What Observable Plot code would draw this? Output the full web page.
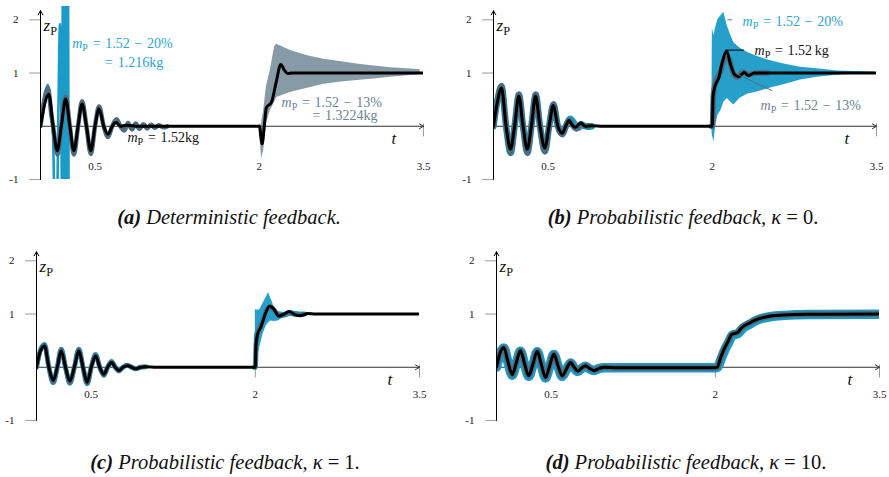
<!DOCTYPE html>
<html>
<head>
<meta charset="utf-8">
<script src="https://cdn.jsdelivr.net/npm/d3@7"></script>
<script src="https://cdn.jsdelivr.net/npm/@observablehq/plot@0.6"></script>
<style>
  html, body { margin: 0; padding: 0; background: #fff; }
  #root { position: relative; width: 889px; height: 477px; overflow: hidden; font-family: "Liberation Serif", serif; }
  #root svg, #root svg text { font-family: "Liberation Serif", serif !important; }
  .panel { position: absolute; }
  .cap { position: absolute; transform: translate(-50%, -50%); white-space: nowrap; font-size: 20.5px; font-style: italic; color: #111; }
  .cap b { font-weight: bold; }
  .cap .up { font-style: normal; }
</style>
</head>
<body>
<div id="root"></div>
<script>
// ---------------- DATA ----------------
const X_TICKS = [0.5, 2, 3.5];
const X_TICK_LABELS = ["0.5", "2", "3.5"];
const Y_TICKS = [2, 1, -1];
const Y_TICK_LABELS = ["2", "1", "-1"];
const X_MINOR = [2, 3.5];

// (a) Deterministic feedback  [t, zP]  (null = no visible trace)
const blackA = [[0,0],[0.076,0.60],[0.115,0],[0.153,-0.46],[0.19,0],[0.23,0.51],[0.268,0],[0.305,-0.46],[0.343,0],[0.38,0.42],[0.42,0],[0.46,-0.46],[0.498,0],[0.535,0.33],[0.578,0],[0.617,-0.15],[0.655,0],[0.69,0.07],[0.73,0],[0.78,0.02],[0.9,0],[2.0,0],[2.025,-0.33],[2.045,0],[2.064,0.35],[2.11,0.45],[2.156,0.85],[2.195,1.16],[2.23,1.05],[2.26,0.99],[2.3,1.0],[3.5,1.0]];
const grayA = [[0,0],[0.035,0.5],[0.068,0.72],[0.1,0.2],[0.115,0],[0.155,-0.53],[0.19,0],[0.23,0.56],[0.268,0],[0.305,-0.53],[0.343,0],[0.38,0.47],[0.42,0],[0.46,-0.52],[0.498,0],[0.535,0.37],[0.578,0],[0.617,-0.2],[0.655,0],[0.695,0.13],[0.73,0],[0.765,-0.08],[0.8,0.06],[0.835,-0.06],[0.87,0.05],[0.905,-0.05],[0.94,0.04],[0.975,-0.04],[1.01,0.03],[1.045,-0.03],[1.08,0.02],[1.12,-0.02],[1.16,0]];
const grayBandA = [[2.0,0,0],[2.01,-0.3,0],[2.02,-0.61,0.05],[2.04,-0.45,0.3],[2.065,0.05,0.75],[2.1,0.29,1.05],[2.14,0.45,1.5],[2.16,0.54,1.54],[2.29,0.64,1.42],[2.45,0.72,1.32],[2.59,0.79,1.26],[2.75,0.83,1.21],[2.89,0.86,1.17],[3.05,0.89,1.13],[3.2,0.92,1.10],[3.35,0.95,1.08],[3.47,0.97,1.06]];
const cyanA = [[0,0],[0.035,0.45],[0.065,0.78],[0.09,0.45],[0.115,-0.2],[0.13,-1.6],[0.15,-1.6],[0.165,0.5],[0.178,1.92],[0.19,0.3],[0.198,-1.8],[0.204,2.6],[0.21,-2.6],[0.216,2.6],[0.222,-2.6],[0.228,2.6],[0.234,-2.6],[0.24,2.6],[0.246,-2.6],[0.252,2.6],[0.258,-2.6]];

// (b) Probabilistic feedback, kappa = 0
const blackB = [[0,0],[0.035,0.45],[0.073,0.72],[0.115,0],[0.155,-0.43],[0.193,0],[0.231,0.57],[0.27,0],[0.308,-0.43],[0.346,0],[0.384,0.57],[0.425,0],[0.469,-0.41],[0.508,0],[0.546,0.39],[0.588,0],[0.628,-0.13],[0.66,0],[0.689,0.11],[0.72,0.02],[0.75,-0.02],[0.795,0.06],[0.84,0],[0.9,0.01],[1.0,0],[2.0,0],[2.006,0.55],[2.02,0.72],[2.06,0.92],[2.09,1.2],[2.13,1.42],[2.165,1.17],[2.2,0.98],[2.24,0.93],[2.29,1.01],[2.33,0.95],[2.38,1.0],[3.5,1.0]];
const grayB = [[0,0],[0.035,0.48],[0.073,0.76],[0.115,0],[0.157,-0.5],[0.193,0],[0.232,0.6],[0.27,0],[0.31,-0.5],[0.346,0],[0.386,0.6],[0.425,0],[0.47,-0.48],[0.508,0],[0.548,0.42],[0.588,0],[0.63,-0.16],[0.66,0],[0.69,0.12],[0.72,0.02],[0.755,-0.05],[0.8,0.05],[0.84,0],[0.88,0.01],[0.9,null],[1.99,0],[2.0,0],[2.01,0.6],[2.03,0.83],[2.07,1.0],[2.12,1.28],[2.15,1.27],[2.19,1.0],[2.23,0.92],[2.28,1.02],[2.33,0.97],[2.4,1.0],[2.5,1.0]];
const cyanB = [[0,0],[0.035,0.48],[0.073,0.75],[0.115,0],[0.157,-0.5],[0.193,0],[0.232,0.59],[0.27,0],[0.31,-0.5],[0.346,0],[0.386,0.59],[0.425,0],[0.47,-0.47],[0.508,0],[0.548,0.41],[0.588,0],[0.63,-0.14],[0.665,0.02],[0.7,0.14],[0.74,0.05],[0.77,-0.03],[0.81,0.02],[0.86,-0.01],[0.9,0]];
const cyanBandB = [[1.995,-0.05,0.05],[2.0,-0.15,1.85],[2.014,-0.30,1.70],[2.03,0.0,1.85],[2.05,0.2,2.0],[2.08,0.3,2.08],[2.105,0.45,2.14],[2.136,0.52,1.89],[2.17,0.45,1.7],[2.197,0.40,1.57],[2.25,0.52,1.47],[2.319,0.60,1.39],[2.4,0.64,1.32],[2.471,0.68,1.27],[2.55,0.73,1.22],[2.654,0.78,1.17],[2.806,0.87,1.11],[2.959,0.92,1.08],[3.141,0.96,1.04],[3.3,0.98,1.03],[3.476,0.99,1.02]];

// (c) Probabilistic feedback, kappa = 1
const blackC = [[0,0],[0.035,0.3],[0.073,0.40],[0.113,0],[0.153,-0.25],[0.19,0],[0.226,0.31],[0.265,0],[0.305,-0.26],[0.346,0],[0.387,0.31],[0.425,0],[0.463,-0.28],[0.5,0],[0.54,0.21],[0.578,0],[0.615,-0.13],[0.65,0],[0.686,0.09],[0.72,0],[0.752,-0.06],[0.79,0],[0.83,0.03],[0.87,0],[0.905,-0.03],[0.95,0],[1.0,0.01],[1.1,0],[2.0,0],[2.005,0.4],[2.02,0.62],[2.05,0.75],[2.09,1.0],[2.13,1.15],[2.17,1.09],[2.215,0.96],[2.26,1.0],[2.31,1.05],[2.36,0.99],[2.41,0.97],[2.48,1.01],[2.55,1.0],[3.5,1.0]];
const grayC = [[0,0],[0.035,0.31],[0.073,0.42],[0.113,0],[0.153,-0.28],[0.19,0],[0.226,0.33],[0.265,0],[0.305,-0.29],[0.346,0],[0.387,0.33],[0.425,0],[0.463,-0.3],[0.5,0],[0.54,0.23],[0.578,0],[0.615,-0.15],[0.65,0],[0.686,0.1],[0.72,0],[0.752,-0.07],[0.79,0],[0.83,0.04],[0.87,0],[0.905,-0.03],[0.95,0],[1.0,0.01],[1.05,null],[1.99,0],[2.0,0],[2.008,0.5],[2.03,0.7],[2.07,0.88],[2.11,1.1],[2.15,1.12],[2.2,1.0],[2.25,0.97],[2.3,1.03],[2.36,0.99],[2.45,1.0]];
const cyanC = [[0,0],[0.035,0.32],[0.073,0.43],[0.113,0],[0.153,-0.29],[0.19,0],[0.226,0.34],[0.265,0],[0.305,-0.3],[0.346,0],[0.387,0.34],[0.425,0],[0.463,-0.31],[0.5,0],[0.54,0.24],[0.578,0],[0.615,-0.15],[0.65,0],[0.686,0.11],[0.72,0],[0.752,-0.07],[0.79,0],[0.83,0.04],[0.87,0],[0.905,-0.03],[0.95,0],[1.0,0.01],[1.05,null],[1.99,0],[2.0,0],[2.01,0.6],[2.04,0.78],[2.1,1.05],[2.15,1.1],[2.2,1.0],[2.26,0.98],[2.33,1.02],[2.4,1.0],[2.45,1.0]];
const cyanBandC = [[2.0,0,1.09],[2.01,0.05,1.07],[2.04,0.37,1.08],[2.07,0.62,1.2],[2.1,0.78,1.32],[2.12,0.83,1.40],[2.14,0.87,1.3],[2.17,0.86,1.14],[2.21,0.87,1.05],[2.26,0.94,1.03],[2.33,0.96,1.06],[2.4,0.97,1.02],[2.45,0.98,1.01]];

// (d) Probabilistic feedback, kappa = 10
const blackD = [[0,0],[0.03,0.25],[0.067,0.37],[0.105,0.1],[0.144,-0.14],[0.18,0.08],[0.219,0.31],[0.257,0.06],[0.295,-0.16],[0.333,0.06],[0.372,0.30],[0.41,0.05],[0.448,-0.19],[0.486,0.03],[0.524,0.25],[0.562,0.03],[0.6,-0.16],[0.64,-0.03],[0.676,0.09],[0.71,0.0],[0.743,-0.07],[0.78,-0.01],[0.814,0.03],[0.85,-0.02],[0.89,-0.06],[0.94,-0.02],[0.98,0.0],[1.1,-0.01],[1.3,-0.01],[2.0,-0.01],[2.017,0.0],[2.05,0.19],[2.08,0.34],[2.12,0.5],[2.15,0.62],[2.2,0.65],[2.245,0.75],[2.31,0.83],[2.38,0.9],[2.47,0.95],[2.63,0.98],[2.84,0.995],[3.5,1.0]];
const grayD = blackD;
const cyanD = [[0,0],[0.03,0.24],[0.067,0.36],[0.105,0.09],[0.144,-0.15],[0.18,0.07],[0.219,0.3],[0.257,0.05],[0.295,-0.17],[0.333,0.05],[0.372,0.29],[0.41,0.04],[0.448,-0.2],[0.486,0.02],[0.524,0.24],[0.562,0.02],[0.6,-0.17],[0.64,-0.04],[0.676,0.08],[0.71,-0.01],[0.743,-0.08],[0.78,-0.02],[0.814,0.02],[0.85,-0.03],[0.89,-0.06],[0.94,-0.02],[0.98,-0.01],[1.1,-0.01],[1.3,-0.01],[2.0,-0.01],[2.02,0.0],[2.055,0.17],[2.085,0.32],[2.125,0.48],[2.155,0.6],[2.205,0.63],[2.25,0.73],[2.315,0.81],[2.385,0.89],[2.475,0.94],[2.635,0.975],[2.845,0.99],[3.5,0.995]];

// ---------------- STYLE ----------------
const CYAN = "#1a9bc8", SLATE = "#4e6c7e", CYAN_TXT = "#2aa5d2", SLATE_TXT = "#6b8393";
const FONT = "Liberation Serif";
const S = "\u2004"; // math-like spacing around relations

const panels = [
  { id: "a", left: 0, top: 0, width: 445, ml: 40, tickDy: 40,
    layers: [
      { kind: "line", data: cyanA, stroke: CYAN, w: 2.6 },
      { kind: "line", data: grayA, stroke: SLATE, w: 4.5 },
      { kind: "band", data: grayBandA, fill: SLATE, op: 0.68 },
      { kind: "line", data: blackA, stroke: "#000", w: 3 }
    ],
    notes: [
      { t: 0.29, z: 1.55, text: `m_P${S}=${S}1.52${S}−${S}20%`, color: CYAN_TXT },
      { t: 0.59, z: 1.19, text: `=${S}1.216kg`, color: CYAN_TXT },
      { t: 0.795, z: -0.21, text: `m_P${S}=${S}1.52kg`, color: "#111" },
      { t: 2.203, z: 0.45, text: `m_P${S}=${S}1.52${S}−${S}13%`, color: SLATE_TXT },
      { t: 2.486, z: 0.2, text: `=${S}1.3224kg`, color: SLATE_TXT }
    ],
    leaders: [] },
  { id: "b", left: 445, top: 0, width: 444, ml: 48, tickDy: 40,
    layers: [
      { kind: "line", data: cyanB, stroke: CYAN, w: 6.5 },
      { kind: "band", data: cyanBandB, fill: CYAN, op: 0.95 },
      { kind: "line", data: grayB, stroke: SLATE, w: 5.5 },
      { kind: "line", data: blackB, stroke: "#000", w: 3 }
    ],
    notes: [
      { t: 2.276, z: 1.96, text: `m_P${S}=${S}1.52${S}−${S}20%`, color: CYAN_TXT },
      { t: 2.386, z: 1.42, text: `m_P${S}=${S}1.52\u2009kg`, color: "#111" },
      { t: 2.44, z: 0.39, text: `m_P${S}=${S}1.52${S}−${S}13%`, color: SLATE_TXT }
    ],
    leaders: [
      { t1: 2.136, z1: 1.43, t2: 2.29, z2: 1.43, color: "#000" },
      { t1: 2.136, z1: 2.0, t2: 2.18, z2: 2.0, color: CYAN },
      { t1: 2.226, z1: 0.98, t2: 2.546, z2: 0.67, color: SLATE }
    ] },
  { id: "c", left: 0, top: 241, width: 445, ml: 36, tickDy: 27,
    layers: [
      { kind: "line", data: cyanC, stroke: CYAN, w: 5 },
      { kind: "band", data: cyanBandC, fill: CYAN, op: 0.95 },
      { kind: "line", data: grayC, stroke: SLATE, w: 4.2 },
      { kind: "line", data: blackC, stroke: "#000", w: 3 }
    ],
    notes: [], leaders: [] },
  { id: "d", left: 445, top: 241, width: 444, ml: 51, tickDy: 27,
    layers: [
      { kind: "line", data: cyanD, stroke: CYAN, w: 9.5 },
      { kind: "line", data: grayD, stroke: SLATE, w: 6 },
      { kind: "line", data: blackD, stroke: "#000", w: 3 }
    ],
    notes: [], leaders: [] }
];

const captions = [
  { left: 229, top: 217, html: '<b>(a)</b> Deterministic feedback.' },
  { left: 683, top: 217, html: '<b>(b)</b> Probabilistic feedback, κ <span class="up">= 0.</span>' },
  { left: 225, top: 462, html: '<b>(c)</b> Probabilistic feedback, κ <span class="up">= 1.</span>' },
  { left: 686, top: 462, html: '<b>(d)</b> Probabilistic feedback, κ <span class="up">= 10.</span>' }
];

// ---------------- RENDER ----------------
const root = document.getElementById("root");
const PLOT_W = 383, H = 200;

function build(p) {
  const marks = [];
  marks.push(Plot.ruleY(Y_TICKS, { x1: -0.1, x2: 0, stroke: "#aaa", strokeWidth: 1.2 }));
  marks.push(Plot.ruleX(X_MINOR, { y1: -0.2, y2: 0.04, stroke: "#999", strokeWidth: 1 }));
  marks.push(Plot.text(Y_TICKS, { x: 0, y: d => d, dx: -22, textAnchor: "end", text: (d, i) => Y_TICK_LABELS[i], fontSize: 11, fill: "#222" }));
  marks.push(Plot.text(X_TICKS, { x: d => d, y: 0, dy: p.tickDy, text: (d, i) => X_TICK_LABELS[i], fontSize: 11, fill: "#222" }));
  marks.push(Plot.arrow([0], { x1: 0, y1: 0, x2: 3.5, y2: 0, stroke: "#333", strokeWidth: 1, headLength: 7, headAngle: 60 }));
  for (const L of p.layers) {
    if (L.kind === "line") {
      marks.push(Plot.line(L.data, { x: d => d[0], y: d => d[1], curve: "monotone-x", stroke: L.stroke, strokeWidth: L.w, strokeLinejoin: "round", strokeLinecap: "round", clip: true }));
    } else {
      marks.push(Plot.areaY(L.data, { x: d => d[0], y1: d => d[1], y2: d => d[2], fill: L.fill, fillOpacity: L.op, curve: "linear", clip: true }));
    }
  }
  marks.push(Plot.arrow([0], { x1: 0, y1: -1, x2: 0, y2: 2.17, stroke: "#000", strokeWidth: 1, headLength: 7, headAngle: 60 }));
  if (p.leaders.length) {
    marks.push(Plot.link(p.leaders, { x1: "t1", y1: "z1", x2: "t2", y2: "z2", stroke: "color", strokeWidth: 1 }));
  }
  if (p.notes.length) {
    marks.push(Plot.text(p.notes, { x: "t", y: "z", text: "text", fill: "color", textAnchor: "start", fontSize: 14 }));
  }
  marks.push(Plot.text(["t"], { x: 3.23, y: 0, dy: 12, fontStyle: "italic", fontSize: 17, fill: "#111" }));
  marks.push(Plot.text(["z_P"], { x: 0, y: 1.89, dx: 3, textAnchor: "start", fontSize: 17, fill: "#111" }));

  return Plot.plot({
    width: p.width, height: H,
    marginLeft: p.ml, marginRight: p.width - p.ml - PLOT_W,
    marginTop: 6, marginBottom: 21,
    x: { domain: [0, 3.5], axis: null },
    y: { domain: [-1, 2.25], axis: null },
    style: { fontFamily: FONT, background: "transparent", overflow: "visible" },
    marks
  });
}

function subscripts(svg) {
  d3.select(svg).selectAll("text").each(function () {
    const s = this.textContent;
    const i = s.indexOf("_P");
    if (i < 0) return;
    const fs = parseFloat(getComputedStyle(this).fontSize) || 13;
    const base = s.slice(0, i), rest = s.slice(i + 2);
    const t = d3.select(this);
    t.text(null);
    t.append("tspan").attr("font-style", "italic").text(base);
    t.append("tspan").attr("font-size", (fs * 0.72) + "px").attr("dy", (fs * 0.22) + "px").text("P");
    t.append("tspan").attr("dy", (-fs * 0.22) + "px").text(rest);
  });
}

for (const p of panels) {
  const div = document.createElement("div");
  div.className = "panel";
  div.style.left = p.left + "px";
  div.style.top = p.top + "px";
  const svg = build(p);
  div.appendChild(svg);
  root.appendChild(div);
  subscripts(svg);
}
for (const c of captions) {
  const d = document.createElement("div");
  d.className = "cap";
  d.style.left = c.left + "px";
  d.style.top = c.top + "px";
  d.innerHTML = c.html;
  root.appendChild(d);
}
</script>
</body>
</html>
